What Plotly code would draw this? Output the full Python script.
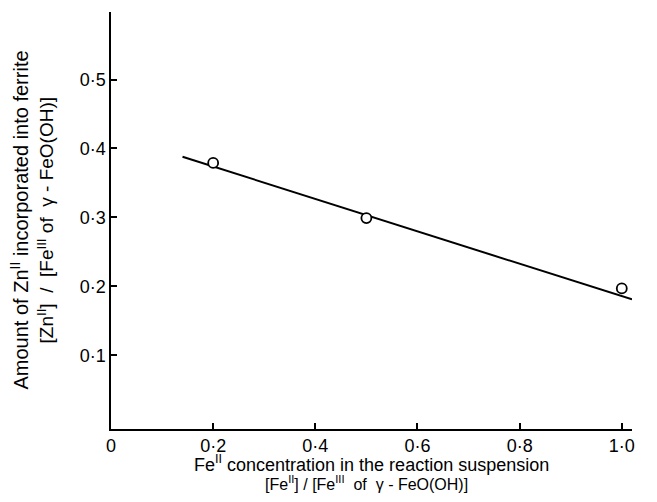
import plotly.graph_objects as go

# Data
fe2_conc = [0.2, 0.5, 1.0]
zn_incorporated = [0.379, 0.299, 0.197]

# Fitted straight line (end points)
fit_x = [0.14, 1.02]
fit_y = [0.388, 0.181]

x_tick_vals = [0, 0.2, 0.4, 0.6, 0.8, 1.0]
x_tick_text = ["0", "0·2", "0·4", "0·6", "0·8", "1·0"]
y_tick_vals = [0.1, 0.2, 0.3, 0.4, 0.5]
y_tick_text = ["0·1", "0·2", "0·3", "0·4", "0·5"]

FONT = "Liberation Sans, Arial, sans-serif"
TICK_SIZE = 18

W, H = 641, 486
M_L, M_R, M_T, M_B = 103, 17, 4, 65

fig = go.Figure()
fig.add_trace(go.Scatter(
    x=fit_x, y=fit_y, mode="lines",
    line=dict(color="black", width=2), showlegend=False, hoverinfo="skip"))
fig.add_trace(go.Scatter(
    x=fe2_conc, y=zn_incorporated, mode="markers",
    marker=dict(symbol="circle", size=10, color="white",
                line=dict(color="black", width=1.8)),
    showlegend=False))

fig.update_layout(
    width=W, height=H,
    margin=dict(l=M_L, r=M_R, t=M_T, b=M_B),
    paper_bgcolor="white", plot_bgcolor="white",
    font=dict(family=FONT, size=TICK_SIZE, color="black"),
    xaxis=dict(range=[0, 1.02], showgrid=False, zeroline=False,
               showline=True, linecolor="black", linewidth=1.5,
               ticks="inside", ticklen=6, tickwidth=1.5, tickcolor="black",
               tickvals=x_tick_vals, ticktext=x_tick_text,
               tickfont=dict(size=TICK_SIZE, family=FONT)),
    yaxis=dict(range=[-0.007, 0.598], showgrid=False, zeroline=False,
               showline=True, linecolor="black", linewidth=1.5,
               ticks="inside", ticklen=6, tickwidth=1.5, tickcolor="black",
               tickvals=y_tick_vals, ticktext=y_tick_text,
               tickfont=dict(size=TICK_SIZE, family=FONT)),
)

plot_h = H - M_T - M_B
fig_bottom = -M_B / plot_h

def ann_font(size):
    return dict(family=FONT, size=size, color="black")

fig.add_annotation(text="Fe<sup>II</sup> concentration in the reaction suspension",
                   xref="paper", yref="paper", x=0.5, y=0, yanchor="middle",
                   yshift=-34, showarrow=False, font=ann_font(18), borderpad=0)
fig.add_annotation(text="[Fe<sup>II</sup>] / [Fe<sup>III</sup>  of  γ - FeO(OH)]",
                   xref="paper", yref="paper", x=0.49, y=fig_bottom, yanchor="bottom",
                   yshift=0, showarrow=False, font=ann_font(16), borderpad=0)
fig.add_annotation(text="Amount of Zn<sup>II</sup> incorporated into ferrite",
                   xref="paper", yref="paper", x=0, y=0.5, xanchor="center",
                   xshift=-92, textangle=-90, showarrow=False, font=ann_font(20))
fig.add_annotation(text="[Zn<sup>II</sup>]  /  [Fe<sup>III</sup> of  γ - FeO(OH)]",
                   xref="paper", yref="paper", x=0, y=0.5, xanchor="center",
                   xshift=-66, textangle=-90, showarrow=False, font=ann_font(19))

fig.write_html("out.html")
